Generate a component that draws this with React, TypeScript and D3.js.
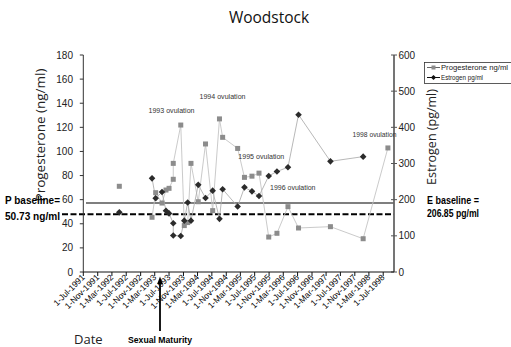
import React from "react";
import * as d3 from "d3";

// ---- data ----
const sampleDates = [
  "1992-05-03", "1993-02-06", "1993-03-09", "1993-05-02", "1993-06-05", "1993-07-01",
  "1993-08-06", "1993-08-06", "1993-10-09", "1993-11-08", "1993-12-07", "1994-01-04",
  "1994-03-07", "1994-05-08", "1994-07-08", "1994-09-04", "1994-10-01", "1995-02-06",
  "1995-04-05", "1995-06-08", "1995-08-07", "1995-10-29", "1996-01-07", "1996-04-10",
  "1996-07-09", "1997-04-07", "1998-01-11", "1998-08-10",
];
const progesterone: (number | null)[] = [
  71.1, 45.4, 65.8, 57.2, 68.0, 69.4, 76.9, 90.1, 121.9, 38.5, 41.0, 90.1, 58.3, 106.2,
  50.9, 127.0, 111.7, 102.5, 78.5, 79.5, 82.0, 29.0, 32.1, 54.2, 36.5, 37.6, 27.6, 102.9,
];
const estrogen: (number | null)[] = [
  165, 259, 204, 221, 169.5, 162, 134.6, 101, 99.5, 142, 192, 142, 241, 204.6, 225, 147,
  229, 181, 234, 223, 210, 265.4, 278, 289.5, 435, 306, 319, null,
];
// no connecting line drawn into these indices
const lineBreaksBefore = [1];

const pTicks = [0, 20, 40, 60, 80, 100, 120, 140, 160, 180];
const eTicks = [0, 100, 200, 300, 400, 500, 600];
const xDomain = ["1991-07-01", "1998-10-01"];
const xTickStart = "1991-07-01";
const xTickEnd = "1998-07-02";

const eBaselineDrawn = 190.8; // solid line (estrogen scale)
const pBaselineDrawn = 47.9; // dashed line (progesterone scale)

const annotations = ["1993 ovulation", "1994 ovulation", "1995 ovulation", "1996 ovulation", "1998 ovulation"];
const annotationLayout = [
  { x: 148.5, y: 110, w: 46 },
  { x: 199.5, y: 96, w: 46 },
  { x: 238.3, y: 156, w: 46 },
  { x: 270, y: 187.5, w: 45.5 },
  { x: 352.5, y: 134, w: 44 },
];

const W = 511;
const H = 347;
const plot = { left: 83.3, right: 394, top: 55, bottom: 272 };

const parse = d3.utcParse("%Y-%m-%d");
const fmt = d3.utcFormat("%-d-%b-%Y");

const FONT = "'Open Sans', 'Liberation Sans', sans-serif";
const NARROW = "'Liberation Sans Narrow', 'Liberation Sans', Arial, sans-serif";

function segments(values: (number | null)[]) {
  const segs: number[][] = [];
  let cur: number[] = [];
  values.forEach((v, i) => {
    if (v == null || lineBreaksBefore.includes(i)) {
      if (cur.length) segs.push(cur);
      cur = [];
    }
    if (v != null) cur.push(i);
  });
  if (cur.length) segs.push(cur);
  return segs;
}

export default function App() {
  const x = d3
    .scaleUtc()
    .domain(xDomain.map((d) => parse(d) as Date))
    .range([plot.left, plot.right]);
  const yP = d3.scaleLinear().domain([0, 180]).range([plot.bottom, plot.top]);
  const yE = d3.scaleLinear().domain([0, 600]).range([plot.bottom, plot.top]);
  const dates = sampleDates.map((d) => parse(d) as Date);
  const xTicks = d3.utcMonth.range(parse(xTickStart) as Date, parse(xTickEnd) as Date, 4);

  const lineP = d3
    .line<number>()
    .x((i) => x(dates[i]))
    .y((i) => yP(progesterone[i] as number));
  const lineE = d3
    .line<number>()
    .x((i) => x(dates[i]))
    .y((i) => yE(estrogen[i] as number));

  const sq = 5;
  const dm = 3.3;
  const diamond = (cx: number, cy: number, r: number) =>
    `M${cx},${cy - r}L${cx + r},${cy}L${cx},${cy + r}L${cx - r},${cy}Z`;

  return (
    <svg
      width={W}
      height={H}
      viewBox={`0 0 ${W} ${H}`}
      style={{ position: "absolute", left: 0, top: 0, background: "#fff" }}
    >
      <rect x={0} y={0} width={W} height={H} fill="#fff" />
      {/* title */}
      <text x={269} y={22.5} textAnchor="middle" fontFamily={FONT} fontSize={15.5} fill="#111">
        Woodstock
      </text>

      {/* baselines */}
      <line
        x1={86}
        x2={plot.right}
        y1={yE(eBaselineDrawn)}
        y2={yE(eBaselineDrawn)}
        stroke="#555"
        strokeWidth={1.3}
      />
      <line
        x1={62}
        x2={plot.right}
        y1={yP(pBaselineDrawn)}
        y2={yP(pBaselineDrawn)}
        stroke="#000"
        strokeWidth={2}
        strokeDasharray="6,2.5"
      />

      {/* series lines */}
      {segments(progesterone).map((s, k) => (
        <path key={"pl" + k} d={lineP(s) || ""} fill="none" stroke="#c4c4c4" strokeWidth={0.9} />
      ))}
      {segments(estrogen).map((s, k) => (
        <path key={"el" + k} d={lineE(s) || ""} fill="none" stroke="#b0b0b0" strokeWidth={0.9} />
      ))}

      {/* markers */}
      {progesterone.map((v, i) =>
        v == null ? null : (
          <rect
            key={"p" + i}
            x={x(dates[i]) - sq / 2}
            y={yP(v) - sq / 2}
            width={sq}
            height={sq}
            fill="#8c8c8c"
          />
        )
      )}
      {estrogen.map((v, i) =>
        v == null ? null : <path key={"e" + i} d={diamond(x(dates[i]), yE(v), dm)} fill="#2b2b2b" />
      )}

      {/* left axis */}
      <line x1={plot.left} x2={plot.left} y1={plot.top} y2={plot.bottom} stroke="#333" strokeWidth={1} />
      {pTicks.map((t) => (
        <g key={"pt" + t}>
          <line x1={plot.left - 3.5} x2={plot.left} y1={yP(t)} y2={yP(t)} stroke="#333" strokeWidth={1} />
          <text
            x={73}
            y={yP(t)}
            textAnchor="end"
            dominantBaseline="central"
            fontFamily={NARROW}
            fontSize={10}
            fill="#222"
          >
            {t}
          </text>
        </g>
      ))}

      {/* right axis */}
      <line x1={plot.right} x2={plot.right} y1={plot.top} y2={plot.bottom} stroke="#666" strokeWidth={1.8} />
      {eTicks.map((t) => (
        <g key={"et" + t}>
          <line x1={plot.right - 3} x2={plot.right + 3} y1={yE(t)} y2={yE(t)} stroke="#555" strokeWidth={1} />
          <text
            x={398.5}
            y={yE(t)}
            textAnchor="start"
            dominantBaseline="central"
            fontFamily={NARROW}
            fontSize={10}
            fill="#222"
          >
            {t}
          </text>
        </g>
      ))}

      {/* bottom axis */}
      <line x1={plot.left} x2={plot.right} y1={plot.bottom} y2={plot.bottom} stroke="#111" strokeWidth={1} />
      {xTicks.map((t, i) => (
        <g key={"xt" + i}>
          <line x1={x(t)} x2={x(t)} y1={plot.bottom} y2={plot.bottom + 4} stroke="#111" strokeWidth={1} />
          <text
            transform={`translate(${x(t) + 2},${plot.bottom + 6}) rotate(-45)`}
            textAnchor="end"
            fontFamily={NARROW}
            fontSize={8.5}
            fill="#000"
          >
            {fmt(t)}
          </text>
        </g>
      ))}

      {/* axis titles */}
      <text
        transform="translate(45,135) rotate(-90)"
        textAnchor="middle"
        fontFamily={FONT}
        fontSize={13.5}
        fill="#222"
      >
        Progesterone (ng/ml)
      </text>
      <text
        transform="translate(436,137) rotate(-90)"
        textAnchor="middle"
        fontFamily={FONT}
        fontSize={12.5}
        fill="#222"
      >
        Estrogen (pg/ml)
      </text>
      <text x={74} y={344} fontFamily={FONT} fontSize={13} fill="#222">
        Date
      </text>

      {/* sexual maturity arrow */}
      <line x1={160} x2={160} y1={331} y2={282} stroke="#000" strokeWidth={1.8} />
      <path d="M160,276.5L162.8,284L157.2,284Z" fill="#000" />
      <text
        x={128}
        y={343}
        fontFamily={NARROW}
        fontWeight="bold"
        fontSize={8.5}
        textLength={64}
        lengthAdjust="spacingAndGlyphs"
        fill="#000"
      >
        Sexual Maturity
      </text>

      {/* baseline labels */}
      <text x={5} y={203.5} fontFamily={NARROW} fontWeight="bold" fontSize={10} textLength={55} lengthAdjust="spacingAndGlyphs" fill="#000">
        P baseline=
      </text>
      <text x={5} y={220} fontFamily={NARROW} fontWeight="bold" fontSize={10} textLength={55} lengthAdjust="spacingAndGlyphs" fill="#000">
        50.73 ng/ml
      </text>
      <text x={427} y={203.5} fontFamily={NARROW} fontWeight="bold" fontSize={10} textLength={52} lengthAdjust="spacingAndGlyphs" fill="#000">
        E baseline =
      </text>
      <text x={427} y={216.5} fontFamily={NARROW} fontWeight="bold" fontSize={10} textLength={52} lengthAdjust="spacingAndGlyphs" fill="#000">
        206.85 pg/ml
      </text>

      {/* ovulation annotations */}
      {annotations.map((a, i) => (
        <text
          key={"an" + i}
          x={annotationLayout[i].x}
          y={annotationLayout[i].y}
          dominantBaseline="central"
          fontFamily={NARROW}
          fontSize={7.5}
          textLength={annotationLayout[i].w}
          lengthAdjust="spacingAndGlyphs"
          fill="#333"
        >
          {a}
        </text>
      ))}

      {/* legend */}
      <rect x={424.5} y={62.5} width={95} height={21} fill="#fff" stroke="#333" strokeWidth={0.8} />
      <line x1={427} x2={440} y1={67.5} y2={67.5} stroke="#666" strokeWidth={1} />
      <rect x={431.5} y={65.5} width={4} height={4} fill="#8c8c8c" />
      <text x={441} y={67.5} dominantBaseline="central" fontFamily={NARROW} fontSize={7} textLength={67} lengthAdjust="spacingAndGlyphs" fill="#222">
        Progesterone ng/ml
      </text>
      <line x1={427} x2={440} y1={77.5} y2={77.5} stroke="#111" strokeWidth={1} />
      <path d={diamond(433.5, 77.5, 2.6)} fill="#111" />
      <text x={441} y={77.5} dominantBaseline="central" fontFamily={NARROW} fontSize={7} textLength={42} lengthAdjust="spacingAndGlyphs" fill="#222">
        Estrogen pg/ml
      </text>
    </svg>
  );
}
